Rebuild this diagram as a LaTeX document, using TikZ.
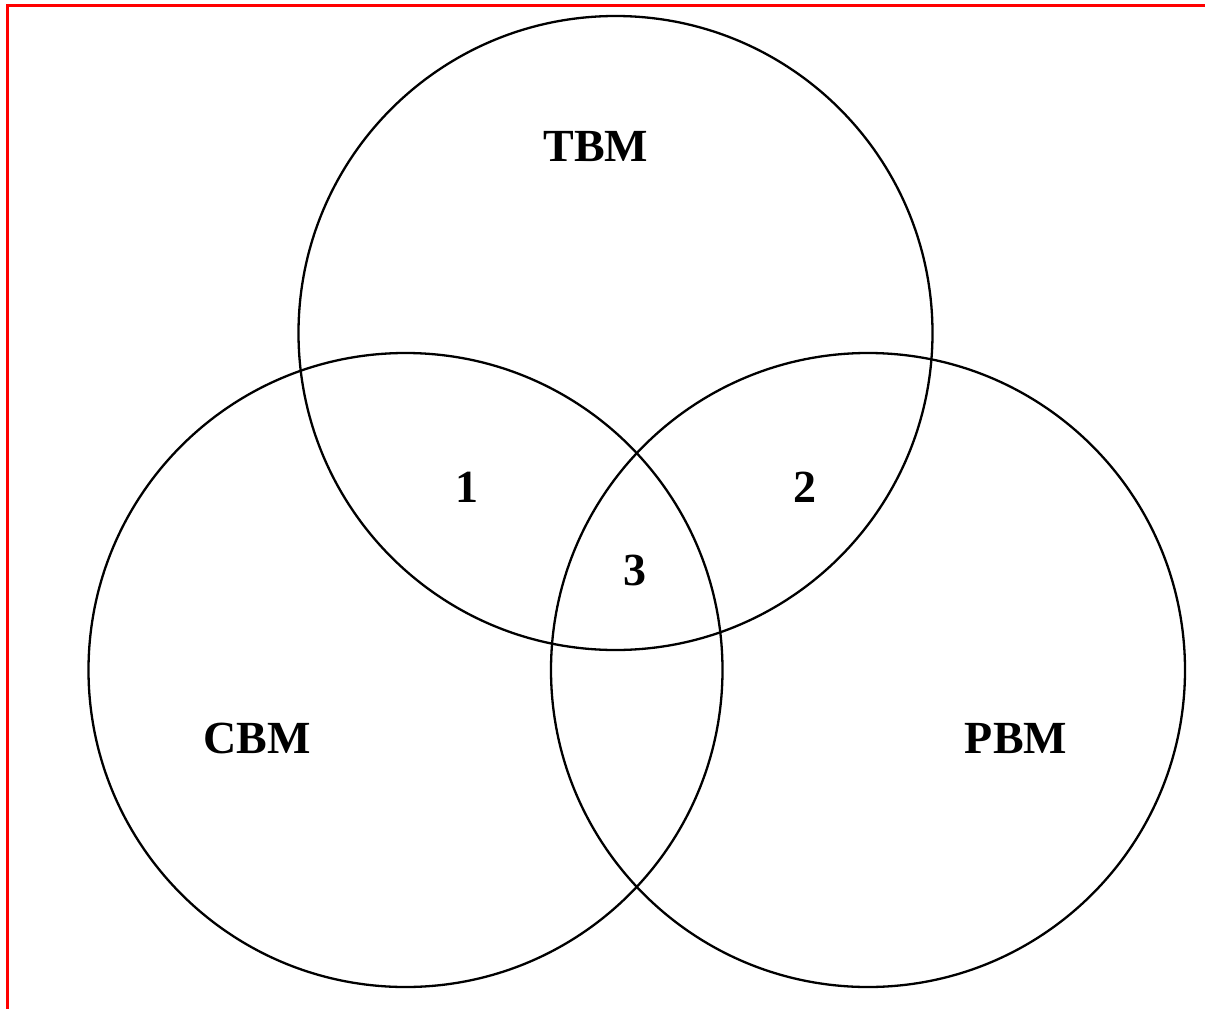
\documentclass[tikz,border=0pt]{standalone}
\usepackage{fontspec}
\setmainfont{Liberation Serif}
\begin{document}
\begin{tikzpicture}[x=1pt,y=-1pt,
  setcircle/.style={draw=black,line width=2.3pt},
  lbl/.style={font=\fontsize{46}{46}\selectfont\bfseries,inner sep=0pt,anchor=center},
  frame/.style={draw=red,line width=3pt}]
\useasboundingbox (0,0) rectangle (1205,1009);
\draw[frame] (1205,5.5) -- (7.5,5.5) -- (7.5,1009);
\node[setcircle,circle,minimum size=634pt,inner sep=0pt] (T) at (615.5,333) {};
\node[setcircle,circle,minimum size=634pt,inner sep=0pt] (C) at (405.5,670) {};
\node[setcircle,circle,minimum size=634pt,inner sep=0pt] (P) at (868,670) {};
\node[lbl] (tbm) at (596,147) {TBM};
\node[lbl] (cbm) at (257,738) {CBM};
\node[lbl] (pbm) at (1016,738) {PBM};
\node[lbl] (r1) at (467,487) {1};
\node[lbl] (r2) at (805,487) {2};
\node[lbl] (r3) at (635,570) {3};
\end{tikzpicture}
\end{document}
